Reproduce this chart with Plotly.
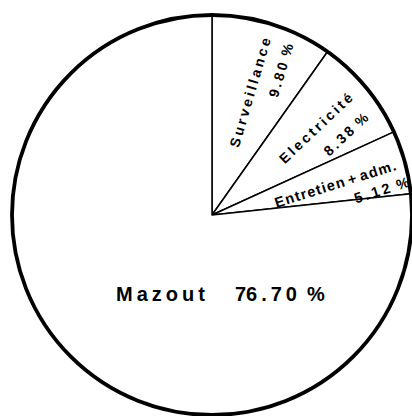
import math
import plotly.graph_objects as go

# ---- data ----
labels = ["Surveillance", "Electricité", "Entretien + adm.", "Mazout"]
values = [9.80, 8.38, 5.12, 76.70]

# ---- layout constants (pixels) ----
W, H = 412, 416
CX, CY, R = 212, 215, 200
dom_x = [(CX - R) / W, min(1.0, (CX + R) / W)]
dom_y = [1 - (CY + R) / H, 1 - (CY - R) / H]

# label styling for the three small slices (polar offsets relative to slice mid-angle)
name_r = [0.644, 0.678, 0.637]
name_d = [-0.4, -0.4, 1.3]
pct_r = [0.803, 0.783, 0.859]
pct_d = [7.8, 8.4, 6.9]
label_angle = [-73.5, -43.4, -17.5]
label_gap = ["\u2009", "\u2009", "\u200a"]
label_size = [14, 14, 14.5]

FONT = "Liberation Sans, Arial, sans-serif"


def spaced(s, gap):
    return " ".join(gap.join(w) for w in s.split(" "))


def pct_text(v):
    a, b = f"{v:.2f}".split(".")
    return a + "\u2009.\u2009" + "\u2009".join(b) + "\u2002%"


def polar(rfrac, deg):
    a = math.radians(deg)
    return (CX + rfrac * R * math.sin(a)) / W, 1 - (CY - rfrac * R * math.cos(a)) / H


fig = go.Figure()
fig.add_trace(go.Pie(
    labels=labels, values=values, sort=False, direction="clockwise", rotation=0,
    textinfo="none", hoverinfo="label+percent",
    marker=dict(colors=["white"] * len(values), line=dict(color="black", width=1.5)),
    domain=dict(x=dom_x, y=dom_y), showlegend=False,
))
# thick outer rim
fig.add_trace(go.Pie(
    labels=["rim"], values=[1], sort=False, textinfo="none", hoverinfo="skip",
    marker=dict(colors=["rgba(0,0,0,0)"], line=dict(color="black", width=3.8)),
    domain=dict(x=dom_x, y=dom_y), showlegend=False,
))

total = sum(values)
cum = 0.0
annotations = []
for i, (lab, v) in enumerate(zip(labels, values)):
    mid = (cum + v / 2) / total * 360.0
    cum += v
    if i >= 3:
        continue
    font = dict(family=FONT, size=label_size[i], color="black", weight="bold")
    for txt, rf, dd in ((spaced(lab, label_gap[i]), name_r[i], name_d[i]),
                        (pct_text(v), pct_r[i], pct_d[i])):
        x, y = polar(rf, mid + dd)
        annotations.append(dict(
            x=x, y=y, xref="paper", yref="paper", text=txt,
            xanchor="center", yanchor="middle",
            showarrow=False, textangle=label_angle[i], font=font,
        ))

# big slice label
annotations.append(dict(
    x=220 / W, y=1 - 294 / H, xref="paper", yref="paper",
    xanchor="center", yanchor="middle",
    text=spaced(labels[3], "\u2009") + "\u2003\u2002" + pct_text(values[3]),
    showarrow=False,
    font=dict(family=FONT, size=20, color="black", weight="bold"),
))

fig.update_layout(
    width=W, height=H, margin=dict(l=0, r=0, t=0, b=0),
    paper_bgcolor="white", plot_bgcolor="white",
    annotations=annotations,
)
fig.write_html("out.html", config={"displayModeBar": False},
               post_script="document.body.style.margin='0px';")
